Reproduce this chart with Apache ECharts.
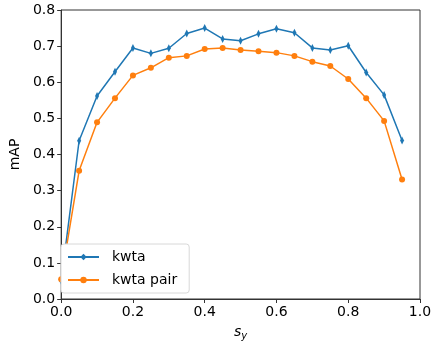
<!DOCTYPE html>
<html>
<head>
<meta charset="utf-8">
<script src="https://cdn.jsdelivr.net/npm/echarts@6/dist/echarts.min.js"></script>
<style>
  html, body { margin: 0; padding: 0; background: #fff; }
  #chart { width: 438px; height: 346px; }
</style>
</head>
<body>
<div id="chart"></div>
<script>
var sy = [0, 0.05, 0.1, 0.15, 0.2, 0.25, 0.3, 0.35, 0.4, 0.45, 0.5, 0.55, 0.6, 0.65, 0.7, 0.75, 0.8, 0.85, 0.9, 0.95];
var kwta = [0.05, 0.438, 0.562, 0.629, 0.695, 0.68, 0.694, 0.735, 0.75, 0.72, 0.715, 0.734, 0.748, 0.737, 0.695, 0.689, 0.701, 0.627, 0.565, 0.439];
var kwtaPair = [0.055, 0.355, 0.489, 0.556, 0.619, 0.64, 0.668, 0.673, 0.692, 0.695, 0.689, 0.686, 0.682, 0.673, 0.657, 0.645, 0.609, 0.556, 0.493, 0.331];
var seriesNames = ['kwta', 'kwta pair'];

function pairs(xs, ys) {
  var out = [];
  for (var i = 0; i < xs.length; i++) out.push([xs[i], ys[i]]);
  return out;
}

var font = 'DejaVu Sans';
var myChart = echarts.init(document.getElementById('chart'));
var axisLine = { show: true, lineStyle: { color: '#333', width: 1 } };
var option = {
  backgroundColor: '#fff',
  animation: false,
  grid: {
    left: 52, right: 18, top: 10, bottom: 43,
    show: true, borderColor: '#333', borderWidth: 1
  },
  legend: {
    orient: 'vertical',
    left: 61, top: 244,
    padding: [6, 12, 6, 6],
    itemWidth: 31, itemHeight: 8, itemGap: 9,
    backgroundColor: '#fff',
    borderColor: '#d8d8d8', borderWidth: 1, borderRadius: 3,
    textStyle: { fontFamily: font, fontSize: 14, color: '#000', padding: [0, 0, 0, 8] },
    data: seriesNames
  },
  xAxis: {
    type: 'value', min: 0, max: 1, interval: 0.2,
    name: '{s|s}{sub|y}',
    nameLocation: 'middle', nameGap: 24,
    nameTextStyle: {
      rich: {
        s: { fontFamily: font, fontStyle: 'italic', fontSize: 14, color: '#000' },
        sub: { fontFamily: font, fontStyle: 'italic', fontSize: 10, color: '#000', padding: [8, 0, 0, 0] }
      }
    },
    axisLine: axisLine,
    axisTick: { show: true, inside: false, length: 4, lineStyle: { color: '#333' } },
    axisLabel: { fontFamily: font, fontSize: 14, color: '#000', margin: 6,
      formatter: function (v) { return v.toFixed(1); } },
    splitLine: { show: false }
  },
  yAxis: {
    type: 'value', min: 0, max: 0.8, interval: 0.1,
    name: 'mAP', nameLocation: 'middle', nameGap: 38,
    nameTextStyle: { fontFamily: font, fontSize: 14, color: '#000' },
    axisLine: axisLine,
    axisTick: { show: true, inside: false, length: 4, lineStyle: { color: '#333' } },
    axisLabel: { fontFamily: font, fontSize: 14, color: '#000', margin: 6,
      formatter: function (v) { return v.toFixed(1); } },
    splitLine: { show: false }
  },
  series: [
    {
      name: seriesNames[0], type: 'line',
      data: pairs(sy, kwta),
      color: '#1f77b4',
      lineStyle: { width: 1.5 },
      symbol: 'path://M0,-10L5,0L0,10L-5,0Z', symbolSize: [4, 8],
      showAllSymbol: true
    },
    {
      name: seriesNames[1], type: 'line',
      data: pairs(sy, kwtaPair),
      color: '#ff7f0e',
      lineStyle: { width: 1.5 },
      symbol: 'circle', symbolSize: 6,
      showAllSymbol: true
    }
  ]
};
myChart.setOption(option);
</script>
</body>
</html>
